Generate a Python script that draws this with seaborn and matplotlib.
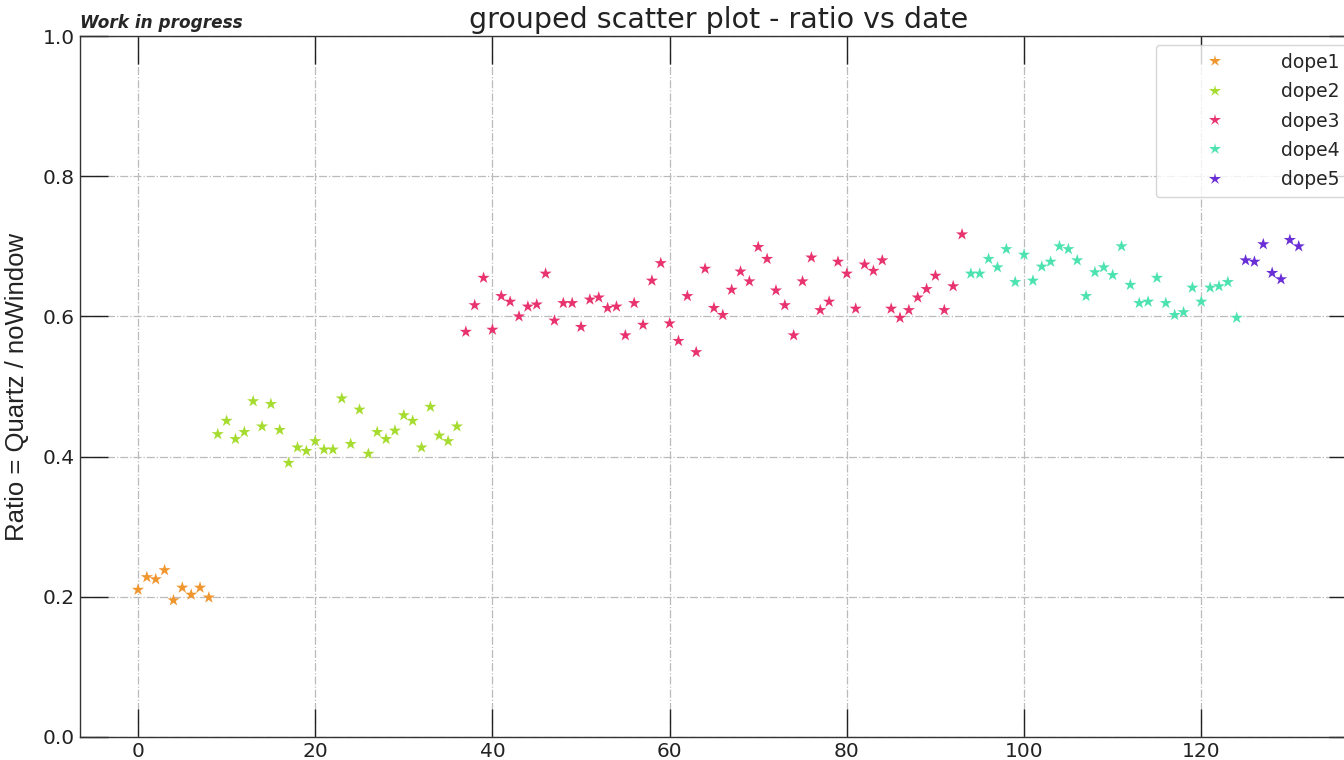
import matplotlib
matplotlib.use("Agg")
import matplotlib.pyplot as plt
import numpy as np
import pandas as pd
import seaborn as sns

# ratio per measurement, one list per dope group (index = running measurement number)
dope1 = [0.210, 0.228, 0.225, 0.238, 0.195, 0.213, 0.203, 0.213, 0.199]
dope2 = [0.432, 0.451, 0.425, 0.435, 0.479, 0.443, 0.475, 0.438, 0.391, 0.413,
         0.408, 0.422, 0.410, 0.410, 0.483, 0.418, 0.467, 0.404, 0.435, 0.425,
         0.437, 0.459, 0.451, 0.413, 0.471, 0.430, 0.422, 0.443]
dope3 = [0.578, 0.616, 0.655, 0.581, 0.629, 0.621, 0.600, 0.614, 0.617, 0.661,
         0.594, 0.619, 0.619, 0.585, 0.624, 0.627, 0.612, 0.614, 0.573, 0.619,
         0.588, 0.651, 0.676, 0.590, 0.565, 0.629, 0.549, 0.668, 0.612, 0.602,
         0.638, 0.664, 0.650, 0.699, 0.682, 0.637, 0.616, 0.573, 0.650, 0.684,
         0.609, 0.621, 0.678, 0.661, 0.611, 0.674, 0.665, 0.680, 0.611, 0.598,
         0.609, 0.627, 0.639, 0.658, 0.609, 0.643, 0.717]
dope4 = [0.661, 0.661, 0.682, 0.670, 0.696, 0.649, 0.688, 0.651, 0.671, 0.678,
         0.700, 0.696, 0.680, 0.629, 0.663, 0.670, 0.659, 0.700, 0.645, 0.619,
         0.621, 0.655, 0.619, 0.602, 0.606, 0.641, 0.621, 0.641, 0.643, 0.649,
         0.598]
dope5 = [0.680, 0.678, 0.703, 0.662, 0.653, 0.709, 0.700]

groups = ["dope1", "dope2", "dope3", "dope4", "dope5"]
colors = ["#f0962e", "#a6dc30", "#e8336e", "#4de3b0", "#6a2ed6"]

ratios = dope1 + dope2 + dope3 + dope4 + dope5
labels = []
for name, vals in zip(groups, [dope1, dope2, dope3, dope4, dope5]):
    labels += [name] * len(vals)
df = pd.DataFrame({"index": np.arange(len(ratios)), "ratio": ratios, "dope": labels})

sns.set_style("white")
plt.rcParams["font.family"] = ["DejaVu Sans"]

fig = plt.figure(figsize=(13.44, 7.6), dpi=100)
ax = fig.add_axes([0.0595, 0.0303, 0.95, 0.9223])

sns.scatterplot(data=df, x="index", y="ratio", hue="dope", palette=colors,
                marker="*", s=85, linewidth=0, ax=ax)

ax.set_ylim(0, 1.0)
ax.set_xlim(-6.55, 137.55)
ax.set_xticks([0, 20, 40, 60, 80, 100, 120])
ax.set_yticks([0.0, 0.2, 0.4, 0.6, 0.8, 1.0])
ax.tick_params(direction="in", length=20, width=1, top=True, right=True,
               bottom=True, left=True, labelsize=14.5, colors="#222222", pad=3.5)
for sp in ax.spines.values():
    sp.set_color("#333333")
    sp.set_linewidth(1)
ax.grid(True, linestyle="-.", color="#bbbbbb", linewidth=0.9)

ax.set_xlabel("")
ax.set_ylabel("Ratio = Quartz / noWindow", fontsize=18.5,
              family=["Liberation Sans", "DejaVu Sans"], labelpad=10, color="#222222")
ax.set_title("grouped scatter plot - ratio vs date", fontsize=20.5, pad=6, color="#222222")
ax.text(0.0, 1.006, "Work in progress", transform=ax.transAxes, fontsize=12.2,
        fontweight="bold", fontstyle="italic", va="bottom", ha="left")

sns.move_legend(ax, "upper right", title=None, fontsize=13.5, frameon=True,
                handlelength=5.5, handletextpad=0.8, labelspacing=0.55,
                borderaxespad=0.5, framealpha=0.8)

fig.savefig("out.png", dpi=100)
